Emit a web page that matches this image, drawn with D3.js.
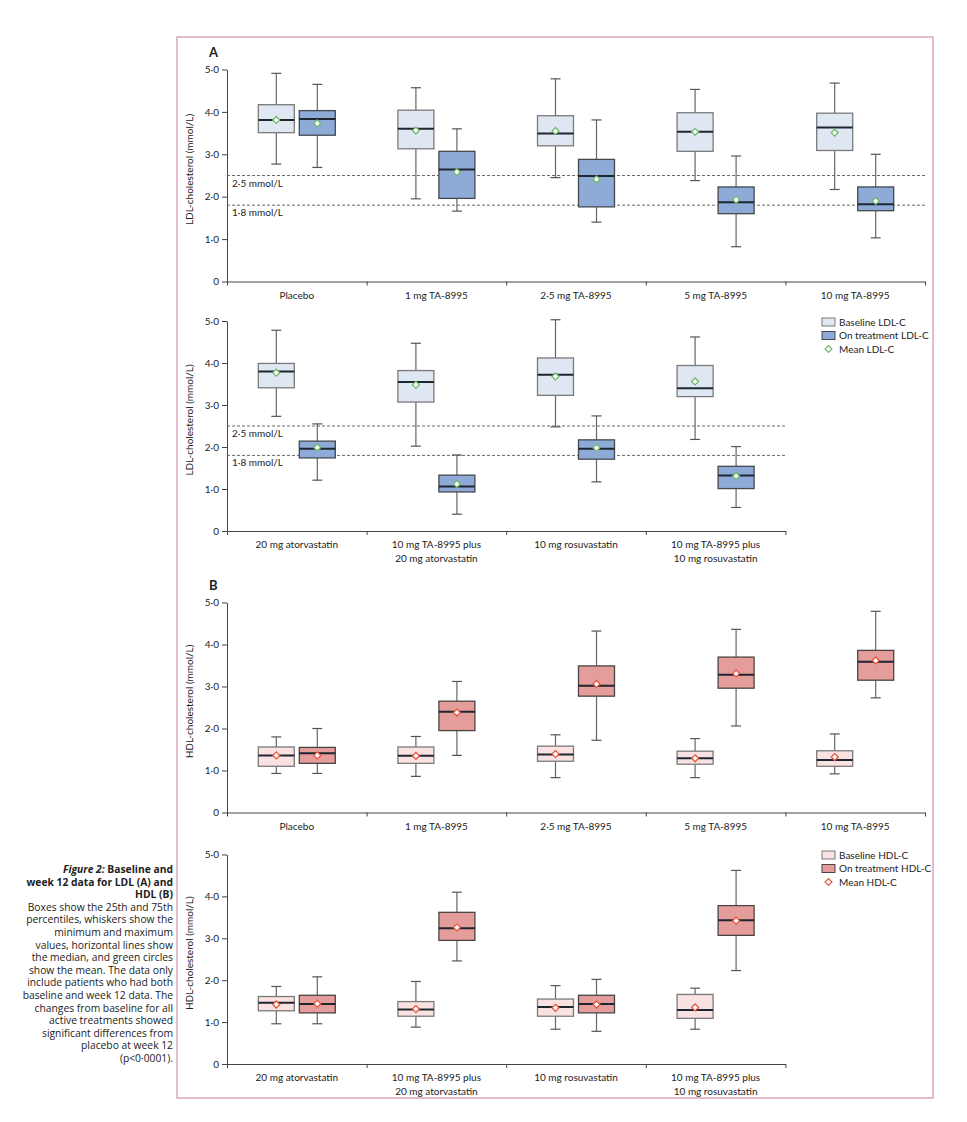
<!DOCTYPE html>
<html><head><meta charset="utf-8">
<script src="https://cdn.jsdelivr.net/npm/d3@7"></script>
<style>
body{margin:0;background:#fff;}
text{font-family:Lato,"Open Sans",sans-serif;fill:#222;}
text.cap{font-family:"Open Sans",Lato,sans-serif;font-size:10.3px;}
</style>
</head><body>
<svg id="c" width="967" height="1122"></svg>
<script>
// ---------- DATA ----------
const catsTop = [["Placebo"],["1 mg TA-8995"],["2·5 mg TA-8995"],["5 mg TA-8995"],["10 mg TA-8995"]];
const catsBottom = [["20 mg atorvastatin"],["10 mg TA-8995 plus","20 mg atorvastatin"],["10 mg rosuvastatin"],["10 mg TA-8995 plus","10 mg rosuvastatin"]];
const yTicks = [0,1,2,3,4,5];
const yTickLabels = ["0","1·0","2·0","3·0","4·0","5·0"];
const ldlThresholds = [2.5, 1.8];
const ldlThresholdLabels = ["2·5 mmol/L","1·8 mmol/L"];
const ldlLegend = ["Baseline LDL-C","On treatment LDL-C","Mean LDL-C"];
const hdlLegend = ["Baseline HDL-C","On treatment HDL-C","Mean HDL-C"];
// each row: [min, q1, median, q3, max, mean]
const ldlBaseTop = [[2.77,3.51,3.81,4.17,4.91,3.81],[1.95,3.13,3.60,4.04,4.57,3.56],[2.45,3.20,3.49,3.91,4.78,3.55],[2.38,3.07,3.53,3.98,4.53,3.53],[2.17,3.09,3.63,3.97,4.68,3.51]];
const ldlTreatTop = [[2.69,3.45,3.83,4.03,4.65,3.73],[1.66,1.96,2.64,3.07,3.60,2.58],[1.40,1.76,2.49,2.88,3.81,2.41],[0.82,1.60,1.87,2.23,2.96,1.93],[1.03,1.67,1.82,2.23,3.00,1.90]];
const ldlBaseBottom = [[2.73,3.41,3.80,3.99,4.78,3.77],[2.02,3.07,3.55,3.82,4.47,3.48],[2.48,3.23,3.72,4.12,5.03,3.68],[2.18,3.20,3.40,3.94,4.62,3.56]];
const ldlTreatBottom = [[1.21,1.74,1.96,2.14,2.55,1.99],[0.40,0.93,1.06,1.33,1.81,1.12],[1.17,1.71,1.96,2.17,2.74,1.98],[0.56,1.01,1.32,1.54,2.01,1.31]];
const hdlBaseTop = [[0.93,1.10,1.36,1.56,1.80,1.36],[0.86,1.17,1.35,1.56,1.81,1.35],[0.83,1.22,1.38,1.58,1.85,1.39],[0.83,1.15,1.29,1.46,1.76,1.29],[0.92,1.10,1.25,1.47,1.87,1.32]];
const hdlTreatTop = [[0.93,1.17,1.41,1.55,2.00,1.36],[1.36,1.95,2.40,2.65,3.12,2.38],[1.72,2.77,3.02,3.49,4.32,3.06],[2.06,2.96,3.28,3.70,4.36,3.31],[2.73,3.15,3.59,3.86,4.79,3.62]];
const hdlBaseBottom = [[0.96,1.27,1.46,1.61,1.85,1.42],[0.88,1.14,1.30,1.49,1.97,1.31],[0.83,1.14,1.36,1.55,1.87,1.34],[0.83,1.09,1.29,1.66,1.81,1.35]];
const hdlTreatBottom = [[0.96,1.22,1.43,1.64,2.08,1.44],[2.46,2.95,3.24,3.62,4.10,3.26],[0.78,1.22,1.43,1.64,2.02,1.42],[2.23,3.07,3.43,3.78,4.62,3.42]];
const captionTitle = ["Baseline and","week 12 data for LDL (A) and","HDL (B)"];
const captionBody = ["Boxes show the 25th and 75th","percentiles, whiskers show the","minimum and maximum","values, horizontal lines show","the median, and green circles","show the mean. The data only","include patients who had both","baseline and week 12 data. The","changes from baseline for all","active treatments showed","significant differences from","placebo at week 12","(p<0·0001)."];

// ---------- STYLE ----------
const ldlCol = {base:"#dfe7f2", treat:"#8eaad6", baseStroke:"#7a7a7a", treatStroke:"#44494f", mean:"#6dbb6a"};
const hdlCol = {base:"#f9e2e1", treat:"#e49d9a", baseStroke:"#7a7a7a", treatStroke:"#4a4444", mean:"#e8553f"};

const svg = d3.select("#c");
svg.append("rect").attr("x",177).attr("y",37).attr("width",756).attr("height",1061)
  .attr("fill","none").attr("stroke","#d49aad").attr("stroke-width",1.3);

const panels = [
  {letter:"A", y5:69.5, y0:281.5, cats:catsTop, base:ldlBaseTop, treat:ldlTreatTop, col:ldlCol, thr:true, title:"LDL-cholesterol (mmol/L)"},
  {y5:321, y0:531, cats:catsBottom, base:ldlBaseBottom, treat:ldlTreatBottom, col:ldlCol, thr:true, legend:ldlLegend, ly:322, title:"LDL-cholesterol (mmol/L)"},
  {letter:"B", y5:602.5, y0:812.5, cats:catsTop, base:hdlBaseTop, treat:hdlTreatTop, col:hdlCol, thr:false, title:"HDL-cholesterol (mmol/L)"},
  {y5:854.5, y0:1064, cats:catsBottom, base:hdlBaseBottom, treat:hdlTreatBottom, col:hdlCol, thr:false, legend:hdlLegend, ly:855, title:"HDL-cholesterol (mmol/L)"}
];

const X0 = 227, CW = 139.6, BW = 36, OFF = 20.5;

panels.forEach(p => {
  const n = p.cats.length;
  const g = svg.append("g");
  const y = d3.scaleLinear().domain([0,5]).range([p.y0, p.y5]);
  const xb = d3.scaleBand().domain(d3.range(n)).range([X0, X0 + n*CW]).padding(0);
  const xl = d3.scaleLinear().domain([0,n]).range([X0, X0 + n*CW]);

  if (p.letter) g.append("text").attr("x",209).attr("y",p.y5-13).attr("font-size",13).attr("font-weight","bold").text(p.letter);

  // y axis
  const ya = g.append("g").attr("transform",`translate(${X0},0)`)
    .call(d3.axisLeft(y).tickValues(yTicks).tickFormat((d,i)=>yTickLabels[i]).tickSize(5).tickSizeOuter(0));
  ya.select(".domain").attr("stroke","#444");
  ya.selectAll(".tick line").attr("stroke","#444");
  ya.selectAll(".tick text").attr("font-size",10).attr("font-family","Lato").attr("fill","#222").attr("x",-8);

  // x axis
  const xa = g.append("g").attr("transform",`translate(0,${p.y0})`)
    .call(d3.axisBottom(xl).tickValues(d3.range(n+1)).tickFormat("").tickSize(4).tickSizeOuter(0));
  xa.select(".domain").attr("stroke","#444");
  xa.selectAll(".tick line").attr("stroke","#444");

  // x labels
  p.cats.forEach((lines,i) => {
    lines.forEach((t,j) => {
      g.append("text").attr("x", xb(i)+xb.bandwidth()/2).attr("y", p.y0+17+j*13.5)
        .attr("text-anchor","middle").attr("font-size",10).text(t);
    });
  });

  // y title
  g.append("text").attr("transform",`translate(193,${(p.y0+p.y5)/2 - 6}) rotate(-90)`)
    .attr("text-anchor","middle").attr("font-size",10).text(p.title);

  // thresholds
  if (p.thr) {
    ldlThresholds.forEach((v,i) => {
      g.append("line").attr("x1",X0).attr("x2",X0+n*CW).attr("y1",y(v)).attr("y2",y(v))
        .attr("stroke","#6a6a6a").attr("stroke-width",1).attr("stroke-dasharray","3,2");
      g.append("text").attr("x",X0+5).attr("y",y(v)+11).attr("font-size",10).text(ldlThresholdLabels[i]);
    });
  }

  // boxes
  const drawBox = (d, cx, fill, stroke, meanCol) => {
    const [mn,q1,md,q3,mx,mean] = d;
    const bg = g.append("g");
    bg.append("line").attr("x1",cx).attr("x2",cx).attr("y1",y(mx)).attr("y2",y(q3)).attr("stroke","#666").attr("stroke-width",1.2);
    bg.append("line").attr("x1",cx).attr("x2",cx).attr("y1",y(q1)).attr("y2",y(mn)).attr("stroke","#666").attr("stroke-width",1.2);
    [mn,mx].forEach(v => bg.append("line").attr("x1",cx-5).attr("x2",cx+5).attr("y1",y(v)).attr("y2",y(v)).attr("stroke","#555").attr("stroke-width",1.2));
    bg.append("rect").attr("x",cx-BW/2).attr("y",y(q3)).attr("width",BW).attr("height",y(q1)-y(q3))
      .attr("fill",fill).attr("stroke",stroke).attr("stroke-width",1.3);
    bg.append("line").attr("x1",cx-BW/2).attr("x2",cx+BW/2).attr("y1",y(md)).attr("y2",y(md)).attr("stroke","#1e2630").attr("stroke-width",2);
    bg.append("path").attr("d", d3.symbol(d3.symbolSquare, 24)())
      .attr("transform",`translate(${cx},${y(mean)}) rotate(45)`)
      .attr("fill","#fff").attr("stroke",meanCol).attr("stroke-width",1.3);
  };
  p.base.forEach((d,i) => {
    const c = xb(i)+xb.bandwidth()/2;
    drawBox(d, c-OFF, p.col.base, p.col.baseStroke, p.col.mean);
    drawBox(p.treat[i], c+OFF, p.col.treat, p.col.treatStroke, p.col.mean);
  });

  // legend
  if (p.legend) {
    const lx = 822, dy = 13.5;
    const lg = g.append("g");
    [p.col.base, p.col.treat].forEach((f,i) => {
      lg.append("rect").attr("x",lx).attr("y",p.ly+i*dy-4).attr("width",13).attr("height",8)
        .attr("fill",f).attr("stroke",i? p.col.treatStroke : p.col.baseStroke).attr("stroke-width",1);
    });
    lg.append("path").attr("d", d3.symbol(d3.symbolSquare, 24)())
      .attr("transform",`translate(${lx+6.5},${p.ly+2*dy}) rotate(45)`)
      .attr("fill","#fff").attr("stroke",p.col.mean).attr("stroke-width",1.2);
    p.legend.forEach((t,i) => lg.append("text").attr("x",lx+17).attr("y",p.ly+i*dy+3.5).attr("font-size",10).text(t));
  }
});

// caption
const cap = svg.append("g");
const cx = 173, cy0 = 873, lh = 12.6;
const t0 = cap.append("text").attr("class","cap").attr("x",cx).attr("y",cy0).attr("text-anchor","end").attr("font-weight","bold");
t0.append("tspan").attr("font-style","italic").text("Figure 2: ");
t0.append("tspan").text(captionTitle[0]);
captionTitle.slice(1).forEach((t,i) => cap.append("text").attr("class","cap").attr("x",cx).attr("y",cy0+(i+1)*lh).attr("text-anchor","end").attr("font-weight","bold").text(t));
captionBody.forEach((t,i) => cap.append("text").attr("class","cap").attr("x",cx).attr("y",cy0+(i+3)*lh).attr("text-anchor","end").text(t));
</script>
</body></html>
